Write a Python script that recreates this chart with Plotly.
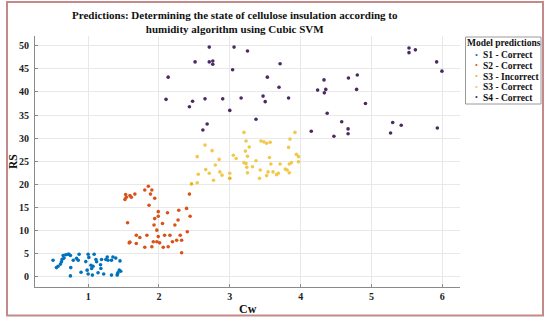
import plotly.graph_objects as go

# ---- data ----
s1_cw = [0.505,0.553,0.576,0.61,0.624,0.647,0.633,0.66,0.685,0.717,0.73,0.75,0.755,0.79,0.836,0.86,0.873,0.75,
         0.967,0.986,1.0,1.01,1.04,1.05,1.06,1.07,1.085,1.11,1.12,1.14,1.175,1.18,1.19,1.22,1.25,1.27,1.28,1.33,
         1.33,1.35,1.39,1.415,1.42,1.44,1.45,1.46,1.41,1.0,0.9]
s1_rs = [3.6,2.0,2.3,2.75,3.25,4.6,3.8,4.05,4.77,4.9,4.9,4.6,2.0,3.6,4.0,3.6,4.9,0.2,
         3.3,1.45,4.9,4.2,2.5,1.8,0.37,2.3,4.9,3.75,3.25,0.87,2.6,1.8,3.75,0.6,3.75,4.3,3.6,3.6,
         0.37,4.3,4.05,0.6,0.87,1.45,3.45,1.2,0.37,0.6,1.0]

s2_cw = [1.52,1.54,1.53,1.59,1.61,1.66,1.557,1.58,1.59,1.68,1.68,1.73,1.80,1.85,1.88,1.9,1.86,1.83,1.80,1.94,
         1.99,1.99,1.93,1.94,1.97,1.99,1.92,1.97,1.9,2.01,2.06,2.05,2.12,2.08,2.13,2.155,2.19,2.225,2.25,2.27,
         2.28,2.30,2.32,2.32,2.39,2.40,2.44,2.43]
s2_rs = [16.75,17.2,17.8,17.6,17.2,17.9,11.7,7.35,7.5,9.0,7.2,8.5,18.8,19.6,17.9,18.8,15.5,9.0,6.4,17.0,
         14.1,13.1,11.2,12.6,10.1,8.7,7.6,7.6,6.5,7.35,6.4,11.55,13.85,9.0,6.5,9.0,7.6,11.2,7.9,12.3,
         14.4,9.0,7.9,5.2,14.8,9.75,13.1,17.9]

s3i_cw = [2.46,3.0]
s3i_rs = [20.1,21.3]

s3c_cw = [2.54,2.555,2.54,2.65,2.66,2.71,2.75,2.77,2.795,2.85,2.86,2.89,3.0,3.05,3.09,3.2,3.23,3.275,
          3.22,3.25,3.2,3.23,3.24,3.25,3.32,3.37,3.42,3.43,3.44,3.48,3.52,3.57,3.56,3.58,3.52,3.54,3.61,
          3.66,3.685,3.71,3.785,3.81,3.84,3.84,3.87,3.83,3.85,3.92,3.94,3.97,3.97]
s3c_rs = [20.35,22.2,26.0,28.5,23.2,22.4,27.3,20.9,24.2,25.4,22.7,22.0,22.4,26.3,25.6,31.25,29.4,28.1,
          27.2,26.1,24.7,24.5,23.7,22.5,23.8,25.1,21.3,23.1,29.4,29.2,28.9,29.1,25.8,24.4,21.9,22.7,22.7,
          22.1,22.4,24.4,23.3,23.1,22.5,24.4,24.7,28.0,29.8,31.25,26.5,26.0,24.9]

s4_cw = [2.71,3.06,3.25,2.51,2.71,2.76,2.76,3.04,3.71,3.53,3.695,3.83,2.475,2.43,2.65,2.90,3.16,3.47,3.50,
         3.0,3.37,2.68,2.62,2.1,2.13,4.33,4.675,4.80,4.24,4.355,4.335,4.79,4.915,4.375,4.58,4.15,4.47,4.67,
         4.67,5.53,5.53,5.62,5.92,5.995,5.30,5.42,5.27,5.93]
s4_rs = [49.7,49.7,48.85,46.5,46.5,46.7,46.0,44.8,46.1,43.2,41.0,38.7,38.0,36.8,38.5,38.5,38.7,39.1,37.9,
         36.0,34.1,33.05,31.75,38.4,43.2,42.6,43.0,43.65,40.4,40.55,39.8,40.55,37.5,35.4,33.55,31.5,30.4,32.0,
         30.95,49.5,48.5,49.1,46.5,44.5,33.4,32.8,31.1,32.2]

series_names = ["S1 - Correct", "S2 - Correct", "S3 - Incorrect", "S3 - Correct", "S4 - Correct"]
series_x = [s1_cw, s2_cw, s3i_cw, s3c_cw, s4_cw]
series_y = [s1_rs, s2_rs, s3i_rs, s3c_rs, s4_rs]
colors = ["#0072BD", "#D95319", "#EDB120", "#F2C84B", "#4B2A63"]

x_ticks = [1, 2, 3, 4, 5, 6]
y_ticks = [0, 5, 10, 15, 20, 25, 30, 35, 40, 45, 50]

FONT = "Liberation Serif, Times New Roman, serif"

# plot-area geometry (pixels) used to place paper-referenced decorations
W, H = 550, 323
ML, MR, MT, MB = 35, 90, 36, 36
PW, PH = W - ML - MR, H - MT - MB
def px(x):  # pixel -> paper x
    return (x - ML) / PW
def py(y):  # pixel -> paper y
    return (H - MB - y) / PH

fig = go.Figure()
for name, xs, ys, c in zip(series_names, series_x, series_y, colors):
    fig.add_trace(go.Scatter(x=xs, y=ys, mode="markers", name=name, showlegend=False,
                             marker=dict(color=c, size=3.6, line=dict(width=0))))

axis_common = dict(showgrid=True, gridcolor="#e8e8e8", gridwidth=1, zeroline=False,
                   showline=True, linecolor="#8a8a8a", linewidth=1, ticks="inside",
                   ticklen=3, tickcolor="#8a8a8a", automargin=False,
                   tickfont=dict(family=FONT, size=10, color="#222", weight="bold"))

annotations = [dict(text="<b>Predictions: Determining the state of cellulose insulation according to<br>humidity algorithm using Cubic SVM</b>",
                    xref="paper", yref="paper", x=px(235), y=py(21.5), xanchor="center", yanchor="middle",
                    showarrow=False, font=dict(family=FONT, size=11, color="#111")),
               dict(text="<b>Cw</b>", xref="paper", yref="paper", x=px(248), y=py(309),
                    xanchor="center", yanchor="middle", showarrow=False,
                    font=dict(family=FONT, size=12, color="#111")),
               dict(text="<b>RS</b>", xref="paper", yref="paper", x=px(13), y=py(162), textangle=-90,
                    xanchor="center", yanchor="middle", showarrow=False,
                    font=dict(family=FONT, size=11.5, color="#111"))]
# manual legend
annotations.append(dict(text="<b>Model predictions</b>", xref="paper", yref="paper",
                        x=px(503.5), y=py(43), xanchor="center", yanchor="middle", showarrow=False,
                        font=dict(family=FONT, size=9.5, color="#111")))
item_y = [55, 65.5, 76.5, 87, 97.5]
for name, c, yy in zip(series_names, colors, item_y):
    annotations.append(dict(text="<span style='color:%s'>•</span>" % c, xref="paper", yref="paper",
                            x=px(476.5), y=py(yy), xanchor="center", yanchor="middle", showarrow=False,
                            font=dict(family=FONT, size=8)))
    annotations.append(dict(text="<b>%s</b>" % name, xref="paper", yref="paper",
                            x=px(481), y=py(yy), xanchor="left", yanchor="middle", showarrow=False,
                            font=dict(family=FONT, size=9.5, color="#111")))

fig.update_layout(
    width=W, height=H,
    margin=dict(l=ML, r=MR, t=MT, b=MB),
    paper_bgcolor="white", plot_bgcolor="white",
    font=dict(family=FONT, color="#111"),
    xaxis=dict(range=[0.25, 6.25], tickvals=x_ticks, **axis_common),
    yaxis=dict(range=[-2.2, 52.1], tickvals=y_ticks, ticklabelstandoff=3, **axis_common),
    annotations=annotations,
    shapes=[dict(type="rect", xref="paper", yref="paper",
                 x0=px(7), x1=px(543), y0=py(315.5), y1=py(2),
                 line=dict(color="#C48A8A", width=2), fillcolor="rgba(0,0,0,0)"),
            dict(type="rect", xref="paper", yref="paper",
                 x0=px(465.5), x1=px(541), y0=py(104), y1=py(37),
                 line=dict(color="#9a9a9a", width=1), fillcolor="white")],
)

fig.write_html("out.html", config={"displayModeBar": False},
               post_script="document.body.style.margin='0px';")
